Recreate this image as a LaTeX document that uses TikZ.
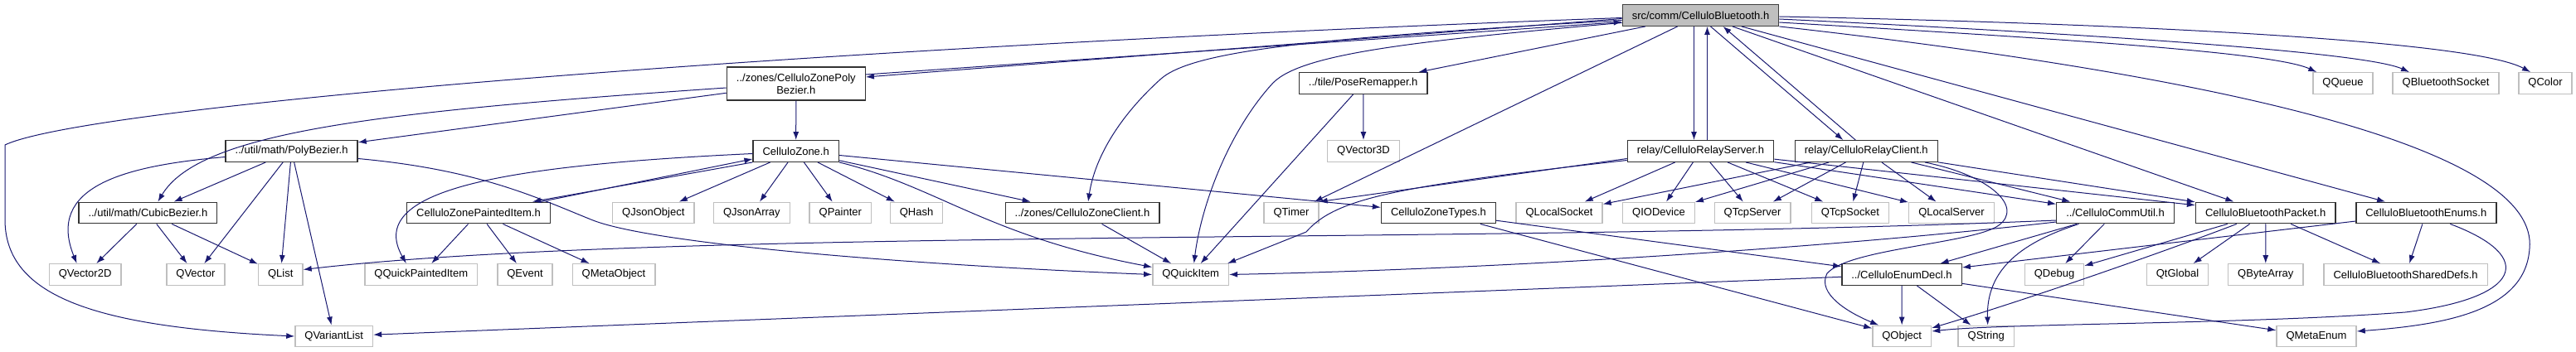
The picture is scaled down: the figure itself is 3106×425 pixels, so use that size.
\documentclass[tikz,border=0pt]{standalone}
\usepackage{fontspec}
\setmainfont{Liberation Sans}
\usepackage{xcolor}
\usepackage{tikz}
\usetikzlibrary{arrows, arrows.meta, positioning}
\definecolor{edgeblue}{HTML}{191970}
\definecolor{boxgray}{HTML}{BFBFBF}

\begin{document}
\begin{tikzpicture}[
  x=1pt, y=-1pt,
  every node/.style={align=center, font=\fontsize{13}{15}\selectfont,
    inner xsep=11.5pt, inner ysep=0pt, minimum height=25.5pt, line width=1.4pt},
  mainbox/.style={draw=black!75, fill=boxgray},
  filebox/.style={draw=black!80},
  extbox/.style={draw=boxgray},
  arrow/.style={-{Latex[length=10pt,width=7pt]}, edgeblue, line width=1pt}
]
  \useasboundingbox (0,0) rectangle (3106,425);

  % The file itself
  \node[mainbox] (main) at (2050.5,18.5) {src/comm/CelluloBluetooth.h};

  % Row 1
  \node[filebox, minimum height=40pt] (zpolybez) at (959.8,101) {../zones/CelluloZonePoly\\Bezier.h};
  \node[filebox] (poseremap) at (1643.7,100.5) {../tile/PoseRemapper.h};
  \node[extbox] (qqueue) at (2825,100.5) {QQueue};
  \node[extbox] (qbtsocket) at (2949,100.5) {QBluetoothSocket};
  \node[extbox] (qcolor) at (3069,100.5) {QColor};

  % Row 2
  \node[filebox] (polybez) at (351.6,182.5) {../util/math/PolyBezier.h};
  \node[filebox] (czone) at (959.7,182.5) {CelluloZone.h};
  \node[extbox] (qvector3d) at (1644,182.5) {QVector3D};
  \node[filebox] (relayserver) at (2050.5,182.5) {relay/CelluloRelayServer.h};
  \node[filebox] (relayclient) at (2250.3,182.5) {relay/CelluloRelayClient.h};

  % Row 3
  \node[filebox] (cubicbez) at (178.4,257) {../util/math/CubicBezier.h};
  \node[filebox] (painteditem) at (577,257) {CelluloZonePaintedItem.h};
  \node[extbox] (qjsonobject) at (787.8,257) {QJsonObject};
  \node[extbox] (qjsonarray) at (906.4,257) {QJsonArray};
  \node[extbox] (qpainter) at (1013.3,257) {QPainter};
  \node[extbox] (qhash) at (1105,257) {QHash};
  \node[filebox] (zoneclient) at (1305,257) {../zones/CelluloZoneClient.h};
  \node[extbox] (qtimer) at (1557,257) {QTimer};
  \node[filebox] (zonetypes) at (1734.5,257) {CelluloZoneTypes.h};
  \node[extbox] (qlocalsocket) at (1880,257) {QLocalSocket};
  \node[extbox] (qiodevice) at (2000,257) {QIODevice};
  \node[extbox] (qtcpserver) at (2113,257) {QTcpServer};
  \node[extbox] (qtcpsocket) at (2230.8,257) {QTcpSocket};
  \node[extbox] (qlocalserver) at (2353,257) {QLocalServer};
  \node[filebox] (commutil) at (2550.5,257) {../CelluloCommUtil.h};
  \node[filebox] (btpacket) at (2731.7,257) {CelluloBluetoothPacket.h};
  \node[filebox] (btenums) at (2925.3,257) {CelluloBluetoothEnums.h};

  % Row 4
  \node[extbox] (qvector2d) at (102.6,331.5) {QVector2D};
  \node[extbox] (qvector) at (235.9,331.5) {QVector};
  \node[extbox] (qlist) at (338.3,331.5) {QList};
  \node[extbox] (qquickpainted) at (507.8,331.5) {QQuickPaintedItem};
  \node[extbox] (qevent) at (633,331.5) {QEvent};
  \node[extbox] (qmetaobject) at (740,331.5) {QMetaObject};
  \node[extbox] (qquickitem) at (1435.6,331.5) {QQuickItem};
  \node[filebox] (enumdecl) at (2293,331.5) {../CelluloEnumDecl.h};
  \node[extbox] (qdebug) at (2477,331.5) {QDebug};
  \node[extbox] (qtglobal) at (2625.5,331.5) {QtGlobal};
  \node[extbox] (qbytearray) at (2731.8,331.5) {QByteArray};
  \node[extbox] (shareddefs) at (2900.6,331.5) {CelluloBluetoothSharedDefs.h};

  % Row 5
  \node[extbox] (qvariantlist) at (402.7,406) {QVariantList};
  \node[extbox] (qobject) at (2293.2,406) {QObject};
  \node[extbox] (qstring) at (2394.7,406) {QString};
  \node[extbox] (qmetaenum) at (2793,406) {QMetaEnum};

  % Arrows from the file
  \draw[arrow] ([yshift=-3]main.west) .. controls (900,60) and (100,130) .. (6,175) -- (6,265) .. controls (6,360) and (120,395) .. (qvariantlist.west);
  \draw[arrow] ([yshift=-4]main.west) -- ([yshift=8]zpolybez.east);
  \draw[arrow] ([yshift=11]zpolybez.east) -- ([yshift=-8]main.west);
  \draw[arrow] ([yshift=-6]main.west) .. controls (1600,45) and (1440,60) .. (1400,95) .. controls (1350,140) and (1320,190) .. ([xshift=7]zoneclient.north);
  \draw[arrow] ([yshift=-9]main.west) .. controls (1700,50) and (1570,65) .. (1535,100) .. controls (1480,160) and (1448,250) .. ([xshift=4]qquickitem.north);
  \draw[arrow] (main) -- (poseremap);
  \draw[arrow] (main) -- (qtimer);
  \draw[arrow] ([xshift=-8]main.south) -- ([xshift=-8]relayserver.north);
  \draw[arrow] ([xshift=8]relayserver.north) -- ([xshift=8]main.south);
  \draw[arrow] ([xshift=12]main.south) -- ([xshift=-28]relayclient.north);
  \draw[arrow] ([xshift=-13]relayclient.north) -- ([xshift=27]main.south);
  \draw[arrow] (main) -- (btpacket);
  \draw[arrow] (main) -- (btenums);
  \draw[arrow] ([yshift=-8.5]main.east) .. controls (2450,45) and (2740,62) .. ([xshift=5]qqueue.north west);
  \draw[arrow] ([yshift=-4.5]main.east) .. controls (2500,40) and (2850,62) .. ([xshift=-44]qbtsocket.north);
  \draw[arrow] ([yshift=-1.5]main.east) .. controls (2550,28) and (2980,48) .. ([xshift=-18]qcolor.north);
  \draw[arrow] (main.south east) .. controls (2750,100) and (3060,190) .. (3050,300) .. controls (3045,375) and (2950,392) .. ([yshift=6]qmetaenum.east);

  % Zones and curves
  \draw[arrow] ([yshift=-5]zpolybez.west) .. controls (450,135) and (240,160) .. ([xshift=12]cubicbez.north);
  \draw[arrow] (zpolybez) -- (polybez);
  \draw[arrow] (zpolybez) -- (czone);

  \draw[arrow] ([yshift=-7]polybez.west) .. controls (150,200) and (55,225) .. ([xshift=-10]qvector2d.north);
  \draw[arrow] (polybez) -- (cubicbez);
  \draw[arrow] (polybez) -- (qvector);
  \draw[arrow] (polybez) -- (qlist);
  \draw[arrow] (polybez) -- (qvariantlist);
  \draw[arrow] ([yshift=-9]polybez.east) .. controls (580,205) and (650,240) .. (715,266) .. controls (790,295) and (1100,320) .. (qquickitem.west);

  \draw[arrow] (cubicbez) -- (qvector2d);
  \draw[arrow] (cubicbez) -- (qvector);
  \draw[arrow] (cubicbez) -- (qlist);

  \draw[arrow] ([yshift=-3]czone.west) .. controls (600,200) and (440,230) .. ([xshift=-18]qquickpainted.north);
  \draw[arrow] (czone.south west) -- ([xshift=-22]painteditem.north east);
  \draw[arrow] ([xshift=-12]painteditem.north east) -- ([yshift=4]czone.south west);
  \draw[arrow] (czone) -- (qjsonobject);
  \draw[arrow] (czone) -- (qjsonarray);
  \draw[arrow] (czone) -- (qpainter);
  \draw[arrow] (czone) -- (qhash);
  \draw[arrow] (czone) -- (zoneclient);
  \draw[arrow] (czone) -- (zonetypes);
  \draw[arrow] (czone.south east) .. controls (1130,225) and (1190,285) .. ([yshift=9]qquickitem.west);

  \draw[arrow] (painteditem) -- (qquickpainted);
  \draw[arrow] (painteditem) -- (qevent);
  \draw[arrow] (painteditem) -- (qmetaobject);

  \draw[arrow] (zoneclient) -- (qquickitem);
  \draw[arrow] (poseremap) -- (qvector3d);
  \draw[arrow] (poseremap) -- (qquickitem);
  \draw[arrow] (zonetypes) -- (enumdecl);
  \draw[arrow] (zonetypes) -- (qobject);

  % Relay server
  \draw[arrow] ([yshift=-9]relayserver.west) -- (qtimer.north east);
  \draw[arrow] ([yshift=-11]relayserver.west) .. controls (1680,225) and (1610,240) .. (1575,280) -- ([xshift=-2]qquickitem.north east);
  \draw[arrow] (relayserver) -- (qlocalsocket);
  \draw[arrow] (relayserver) -- (qiodevice);
  \draw[arrow] (relayserver) -- (qtcpserver);
  \draw[arrow] (relayserver) -- (qtcpsocket);
  \draw[arrow] (relayserver) -- (qlocalserver);
  \draw[arrow] (relayserver) -- (commutil);
  \draw[arrow] (relayserver) -- (btpacket);

  % Relay client
  \draw[arrow] (relayclient) -- (qlocalsocket);
  \draw[arrow] (relayclient) -- (qiodevice);
  \draw[arrow] (relayclient) -- (qtcpserver);
  \draw[arrow] (relayclient) -- (qtcpsocket);
  \draw[arrow] (relayclient) -- (qlocalserver);
  \draw[arrow] (relayclient) -- (commutil);
  \draw[arrow] (relayclient) -- (btpacket);
  \draw[arrow] ([xshift=-16]relayclient.south east) .. controls (2400,212) and (2440,250) .. (2410,272) .. controls (2380,294) and (2230,300) .. (2203,330) .. controls (2190,355) and (2230,378) .. ([xshift=8]qobject.north west);

  % Comm util
  \draw[arrow] ([yshift=-9]commutil.west) .. controls (1800,295) and (800,275) .. ([yshift=6]qlist.east);
  \draw[arrow] ([yshift=-11]commutil.west) .. controls (2200,300) and (1800,325) .. (qquickitem.east);
  \draw[arrow] (commutil) -- (enumdecl);
  \draw[arrow] (commutil) -- (qdebug);
  \draw[arrow] ([xshift=-44]commutil.south) .. controls (2430,295) and (2395,330) .. ([xshift=2]qstring.north);

  % Packet and enums
  \draw[arrow] (btpacket) -- (qdebug);
  \draw[arrow] ([xshift=-35]btpacket.south) .. controls (2620,300) and (2450,360) .. ([yshift=10]qobject.east);
  \draw[arrow] (btpacket) -- (qtglobal);
  \draw[arrow] (btpacket) -- (qbytearray);
  \draw[arrow] (btpacket) -- (shareddefs);

  \draw[arrow] (btenums) -- (enumdecl);
  \draw[arrow] (btenums) -- (shareddefs);
  \draw[arrow] ([xshift=29]btenums.south) .. controls (3060,310) and (3040,360) .. (2900,377) .. controls (2700,392) and (2420,390) .. ([yshift=6]qobject.east);

  \draw[arrow] (enumdecl) -- (qvariantlist);
  \draw[arrow] (enumdecl) -- (qobject);
  \draw[arrow] (enumdecl) -- (qstring);
  \draw[arrow] (enumdecl) -- (qmetaenum);
\end{tikzpicture}
\end{document}
